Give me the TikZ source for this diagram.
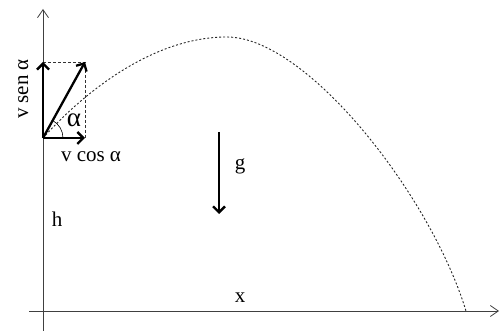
\documentclass[tikz,border=0pt]{standalone}
\usepackage{fontspec}
\setmainfont{Liberation Serif}
\usetikzlibrary{arrows.meta}
\begin{document}
\begin{tikzpicture}[x=1pt,y=-1pt,
  axis/.style={draw=black!75, line width=0.8pt, -{Straight Barb[length=8pt,width=11pt,line width=0.8pt]}},
  vec/.style={draw=black, line width=2.3pt, -{Straight Barb[length=6pt,width=12pt,line width=2.3pt]}},
  guide/.style={draw=black!80, line width=0.6pt, dash pattern=on 3pt off 2pt},
  traj/.style={draw=black!85, line width=0.9pt, dash pattern=on 2pt off 2pt},
  lbl/.style={font=\fontsize{21}{24}\selectfont, inner sep=0pt, anchor=base},
  biglbl/.style={font=\fontsize{27}{30}\selectfont, inner sep=0pt, anchor=base}]
\useasboundingbox (0,0) rectangle (501,331);
% axes
\coordinate (ybot) at (43,331);
\coordinate (ytop) at (43,9);
\coordinate (xleft) at (29,311);
\coordinate (xright) at (499,311);
\draw[axis] (ybot) -- (ytop);
\draw[axis] (xleft) -- (xright);
% vectors
\coordinate (O) at (43,138);
\coordinate (V) at (85,62);
\coordinate (Vy) at (43,62);
\coordinate (Vx) at (85,138);
\coordinate (peak) at (227,37);
\coordinate (land) at (466,311);
\draw[guide] (Vy) -- (V) -- (Vx);
\draw[traj] (O) .. controls (76,101) and (147,37) .. (peak)
                .. controls (307,37) and (431,196) .. (land);
\draw[vec] (O) -- (Vy);
\draw[vec] (O) -- (Vx);
\draw[vec] (O) -- (V);
\draw[black, line width=0.6pt] ([xshift=20pt]O) arc[start angle=0, end angle=61, radius=20pt];
% gravity
\coordinate (gtop) at (219,132);
\coordinate (gbot) at (219,214);
\draw[vec, line width=2pt] (gtop) -- (gbot);
% labels
\node[biglbl] (alpha) at (74,127) {α};
\node[lbl] (vcos) at (91,162) {v cos α};
\node[lbl, rotate=90] (vsen) at (28,89) {v sen α};
\node[lbl] (g) at (240,170) {g};
\node[lbl] (h) at (57,227) {h};
\node[lbl] (x) at (240,302) {x};
\end{tikzpicture}
\end{document}
